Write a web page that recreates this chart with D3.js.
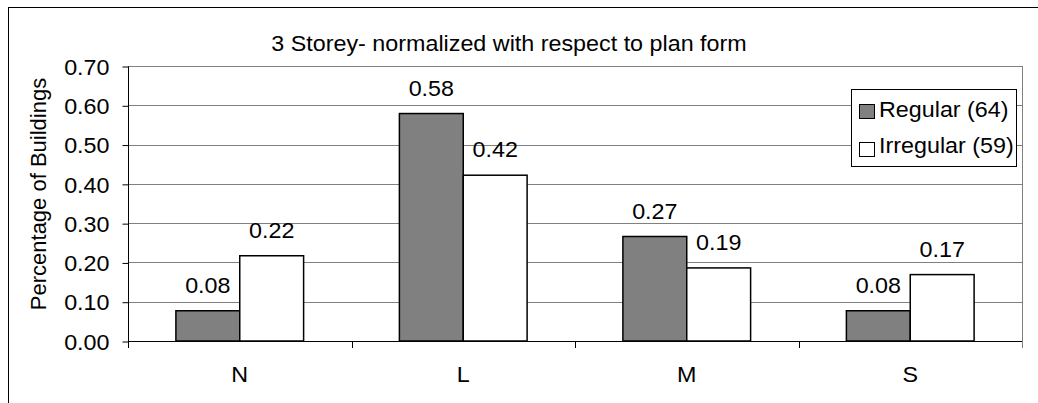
<!DOCTYPE html>
<html>
<head>
<meta charset="utf-8">
<script src="https://cdn.jsdelivr.net/npm/d3@7"></script>
<style>
  body { margin: 0; background: #fff; }
  text { font-family: "Liberation Sans", Arial, sans-serif; fill: #000; }
</style>
</head>
<body>
<div id="canvas"></div>
<script>
"use strict"

/* data */
let categories = ["N", "L", "M", "S"];
let seriesNames = ["Regular (64)", "Irregular (59)"];
let regular = [0.077, 0.579, 0.266, 0.077];
let irregular = [0.217, 0.422, 0.186, 0.169];
let yTicks = [0, 0.1, 0.2, 0.3, 0.4, 0.5, 0.6, 0.7];

/* drawing sizes */
let svgWidth = 1038;
let svgHeight = 403;
let plotLeft = 128, plotRight = 1022, plotTop = 66, plotBottom = 341;
let fontSize = 22;
let stretch = 1.06;   // the original text is a little wide

/* place horizontal text, widened a bit */
function at(x, y) {
    return "translate(" + x + "," + y + ") scale(" + stretch + ",1)";
}

let svg = d3.select("#canvas")
    .append("svg")
    .attr("width", svgWidth)
    .attr("height", svgHeight);

/* outer chart border (runs off the right and bottom) */
svg.append("rect")
    .attr("x", 8.5)
    .attr("y", 7.5)
    .attr("width", svgWidth + 10)
    .attr("height", svgHeight + 10)
    .attr("fill", "#fff")
    .attr("stroke", "#000");

/* scales */
let x0 = d3.scaleBand()
    .domain(categories)
    .range([plotLeft, plotRight])
    .padding(0);

let x1 = d3.scaleBand()
    .domain([0, 1])
    .range([0, x0.bandwidth()])
    .paddingInner(0)
    .paddingOuter(0.75);

let yScale = d3.scaleLinear()
    .domain([0, 0.7])
    .range([plotBottom, plotTop]);

/* gridlines */
svg.append("g")
    .selectAll("line")
    .data(yTicks)
    .join("line")
    .attr("x1", plotLeft)
    .attr("x2", plotRight)
    .attr("y1", d => Math.round(yScale(d)) + 0.5)
    .attr("y2", d => Math.round(yScale(d)) + 0.5)
    .attr("stroke", "#808080");

/* right border of plot area */
svg.append("line")
    .attr("x1", plotRight + 0.5)
    .attr("x2", plotRight + 0.5)
    .attr("y1", plotTop)
    .attr("y2", plotBottom)
    .attr("stroke", "#808080");

/* bars */
let rows = categories.map((c, i) => ({ cat: c, values: [regular[i], irregular[i]] }));

let groups = svg.append("g")
    .selectAll("g")
    .data(rows)
    .join("g")
    .attr("transform", d => "translate(" + x0(d.cat) + ",0)");

groups.selectAll("rect")
    .data(d => d.values.map((v, k) => ({ k: k, v: v })))
    .join("rect")
    .attr("x", d => x1(d.k))
    .attr("y", d => yScale(d.v))
    .attr("width", x1.bandwidth())
    .attr("height", d => yScale(0) - yScale(d.v))
    .attr("fill", d => d.k === 0 ? "#808080" : "#fff")
    .attr("stroke", "#000")
    .attr("stroke-width", 1.5);

/* value labels */
groups.selectAll("text")
    .data(d => d.values.map((v, k) => ({ k: k, v: v })))
    .join("text")
    .attr("transform", d => at(x1(d.k) + x1.bandwidth() / 2, yScale(d.v) - 18))
    .attr("text-anchor", "middle")
    .attr("font-size", fontSize)
    .text(d => d.v.toFixed(2));

/* y axis */
let yAxis = svg.append("g")
    .attr("transform", "translate(" + (plotLeft + 0.5) + ",0.5)")
    .call(d3.axisLeft(yScale)
        .tickValues(yTicks)
        .tickFormat(d3.format(".2f"))
        .tickSize(6)
        .tickPadding(13));
yAxis.select(".domain").attr("stroke", "#000").attr("d", "M0," + plotTop + "V" + plotBottom);
yAxis.selectAll("line").attr("stroke", "#000");
yAxis.selectAll(".tick text")
    .attr("x", null)
    .attr("transform", "translate(-19,0) scale(" + stretch + ",1)")
    .attr("font-size", fontSize)
    .attr("font-family", "Liberation Sans, Arial, sans-serif")
    .attr("fill", "#000")
    .attr("dy", "0.35em");

/* x axis: ticks at category boundaries */
svg.append("line")
    .attr("x1", plotLeft)
    .attr("x2", plotRight)
    .attr("y1", plotBottom + 0.5)
    .attr("y2", plotBottom + 0.5)
    .attr("stroke", "#000");

let boundaries = categories.map(c => x0(c)).concat([plotRight]);
svg.append("g")
    .selectAll("line")
    .data(boundaries)
    .join("line")
    .attr("x1", d => Math.round(d) + 0.5)
    .attr("x2", d => Math.round(d) + 0.5)
    .attr("y1", plotBottom)
    .attr("y2", plotBottom + 7)
    .attr("stroke", (d, i) => i === boundaries.length - 1 ? "#808080" : "#000");

svg.append("g")
    .selectAll("text")
    .data(categories)
    .join("text")
    .attr("transform", d => at(x0(d) + x0.bandwidth() / 2, 382))
    .attr("text-anchor", "middle")
    .attr("font-size", fontSize)
    .text(d => d);

/* axis title */
svg.append("text")
    .attr("transform", "translate(46,194) rotate(-90)")
    .attr("text-anchor", "middle")
    .attr("font-size", fontSize)
    .text("Percentage of Buildings");

/* chart title */
svg.append("text")
    .attr("transform", at(509, 51))
    .attr("text-anchor", "middle")
    .attr("font-size", fontSize)
    .text("3 Storey- normalized with respect to plan form");

/* legend */
svg.append("rect")
    .attr("x", 851.5)
    .attr("y", 89.5)
    .attr("width", 165)
    .attr("height", 77)
    .attr("fill", "#fff")
    .attr("stroke", "#000");

seriesNames.forEach(function(name, i) {
    svg.append("rect")
        .attr("x", 859.5)
        .attr("y", 104.5 + i * 38)
        .attr("width", 15)
        .attr("height", 14)
        .attr("fill", i === 0 ? "#808080" : "#fff")
        .attr("stroke", "#000");

    svg.append("text")
        .attr("transform", at(879, 117 + i * 36))
        .attr("font-size", fontSize)
        .text(name);
});
</script>
</body>
</html>
